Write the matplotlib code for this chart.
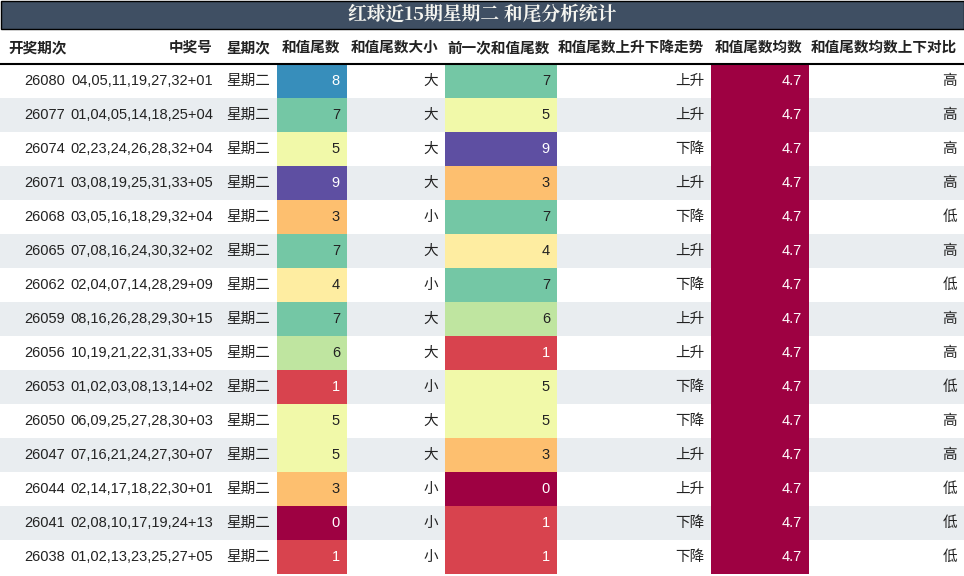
import matplotlib
matplotlib.use("Agg")
import matplotlib.pyplot as plt
from matplotlib.patches import Rectangle

plt.rcParams['font.family'] = ['Noto Sans CJK SC', 'DejaVu Sans']

title = "红球近15期星期二 和尾分析统计"
headers = ["开奖期次", "中奖号", "星期次", "和值尾数", "和值尾数大小", "前一次和值尾数", "和值尾数上升下降走势", "和值尾数均数", "和值尾数均数上下对比"]
periods = ["26080","26077","26074","26071","26068","26065","26062","26059","26056","26053","26050","26047","26044","26041","26038"]
numbers = ["04,05,11,19,27,32+01","01,04,05,14,18,25+04","02,23,24,26,28,32+04","03,08,19,25,31,33+05",
           "03,05,16,18,29,32+04","07,08,16,24,30,32+02","02,04,07,14,28,29+09","08,16,26,28,29,30+15",
           "10,19,21,22,31,33+05","01,02,03,08,13,14+02","06,09,25,27,28,30+03","07,16,21,24,27,30+07",
           "02,14,17,18,22,30+01","02,08,10,17,19,24+13","01,02,13,23,25,27+05"]
weekday = ["星期二"] * 15
tail = [8,7,5,9,3,7,4,7,6,1,5,5,3,0,1]
size = ["大","大","大","大","小","大","小","大","大","小","大","大","小","小","小"]
prev_tail = [7,5,9,3,7,4,7,6,1,5,5,3,0,1,1]
trend = ["上升","上升","下降","上升","下降","上升","下降","上升","上升","下降","下降","上升","上升","下降","下降"]
mean = [4.7] * 15
compare = ["高","高","高","高","低","高","低","高","高","低","高","高","低","低","低"]

W, H = 964, 576
fig = plt.figure(figsize=(W/100, H/100), dpi=100)
ax = fig.add_axes([0, 0, 1, 1])
ax.set_xlim(0, W); ax.set_ylim(H, 0); ax.axis('off')

cmap = plt.get_cmap('Spectral')
def col(v): return cmap(v / 9)
def txtcol(v): return 'white' if v in (0, 1, 8, 9) else '#222222'

edges = [0, 72, 220, 277, 347, 445, 557, 711, 809, 964]
ax.add_patch(Rectangle((0.5, 0.5), W-1, 28, facecolor='#3f4f63', edgecolor='black', lw=1))
ax.text(W/2, 15, title, color='#f5f5f0', fontsize=13.5, fontweight='bold', ha='center', va='center', family=['Noto Serif CJK SC', 'Noto Sans CJK SC', 'DejaVu Sans'])

hy = 47
for i, h in enumerate(headers):
    ax.text(edges[i+1]-7 if i else 8, hy, h, ha='right' if i else 'left', va='center', fontsize=10.5, fontweight='bold', color='#222')
ax.plot([0, W], [64, 64], color='black', lw=1.5)

rh = 34
for r in range(15):
    y0 = 64 + r*rh
    yc = y0 + rh/2
    bg = 'white' if r % 2 == 0 else '#e9edf0'
    ax.add_patch(Rectangle((0, y0), W, rh, facecolor=bg, edgecolor='none'))
    vals = [periods[r], numbers[r], weekday[r], str(tail[r]), size[r], str(prev_tail[r]), trend[r], f"{mean[r]:.1f}", compare[r]]
    fills = {3: (col(tail[r]), txtcol(tail[r])), 5: (col(prev_tail[r]), txtcol(prev_tail[r])), 7: (cmap(0.0), 'white')}
    for c in range(9):
        tc = '#222222'
        if c in fills:
            fc, tc = fills[c]
            ax.add_patch(Rectangle((edges[c], y0), edges[c+1]-edges[c], rh, facecolor=fc, edgecolor='none'))
        fam = ['DejaVu Sans'] if c in (0, 1, 3, 5, 7) else ['Noto Sans CJK SC', 'DejaVu Sans']
        ax.text(edges[c+1]-7, yc, vals[c], ha='right', va='center', fontsize=10.5, color=tc, family=['Liberation Sans', 'Noto Sans CJK SC'] if c in (0,1,3,5,7) else ['Noto Sans CJK SC', 'DejaVu Sans'])

fig.savefig("out.png", dpi=100)
